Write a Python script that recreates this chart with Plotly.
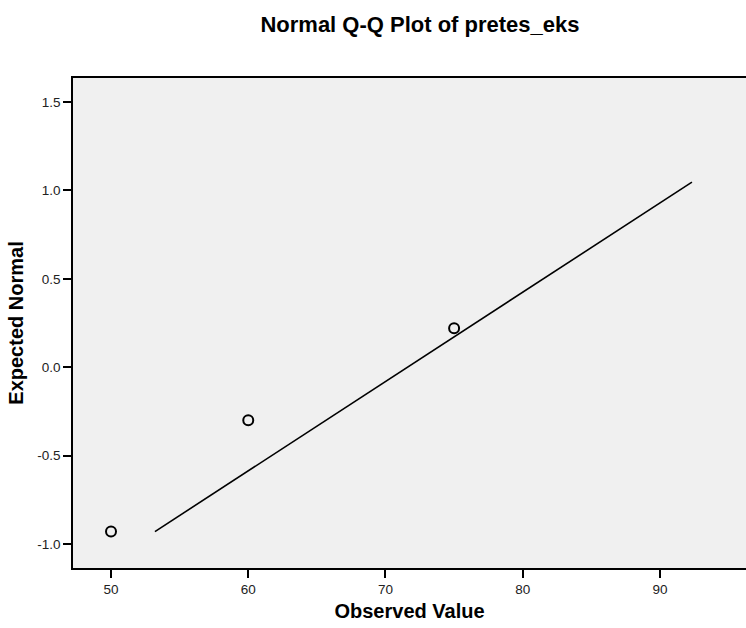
import plotly.graph_objects as go

observed = [50, 60, 75]
expected = [-0.93, -0.30, 0.22]
line_x = [53.2, 92.33]
line_y = [-0.93, 1.047]
x_ticks = [50, 60, 70, 80, 90]
y_ticks = [-1.0, -0.5, 0.0, 0.5, 1.0, 1.5]
y_labels = ["-1.0", "-0.5", "0.0", "0.5", "1.0", "1.5"]

fig = go.Figure()
fig.add_trace(go.Scatter(x=line_x, y=line_y, mode="lines",
                         line=dict(color="black", width=1.6), showlegend=False))
fig.add_trace(go.Scatter(x=observed, y=expected, mode="markers",
                         marker=dict(symbol="circle-open", size=10, color="black",
                                     line=dict(width=2, color="black")),
                         showlegend=False))

font = "Liberation Sans, Arial, sans-serif"
fig.update_layout(
    width=746, height=628,
    margin=dict(l=73, r=0, t=78, b=60, autoexpand=False),
    paper_bgcolor="white", plot_bgcolor="#F0F0F0",
    font=dict(family=font, color="#222222", size=13.5),
    title=dict(text="<b>Normal Q-Q Plot of pretes_eks</b>", x=0.563, xanchor="center",
               y=1 - 24 / 628, yanchor="middle", font=dict(size=22, color="black")),
    xaxis=dict(range=[47.23, 96.27], tickvals=x_ticks, ticks="outside", ticklen=8,
               tickwidth=1.5, tickcolor="black", showline=True, linecolor="black",
               linewidth=1.5, mirror=True, showgrid=False, zeroline=False,
               title=dict(text="<b>Observed Value</b>", font=dict(size=20, color="black"),
                          standoff=8)),
    yaxis=dict(range=[-1.136, 1.636], tickvals=y_ticks, ticktext=y_labels, ticks="outside",
               ticklen=8, tickwidth=1.5, tickcolor="black", showline=True, linecolor="black",
               linewidth=1.5, showgrid=False, zeroline=False,
               title=dict(text="<b>Expected Normal</b>", font=dict(size=20, color="black"),
                          standoff=8)),
)
fig.write_html("out.html", config={"displayModeBar": False},
               post_script="document.body.style.margin='0';document.body.style.overflow='hidden';")
